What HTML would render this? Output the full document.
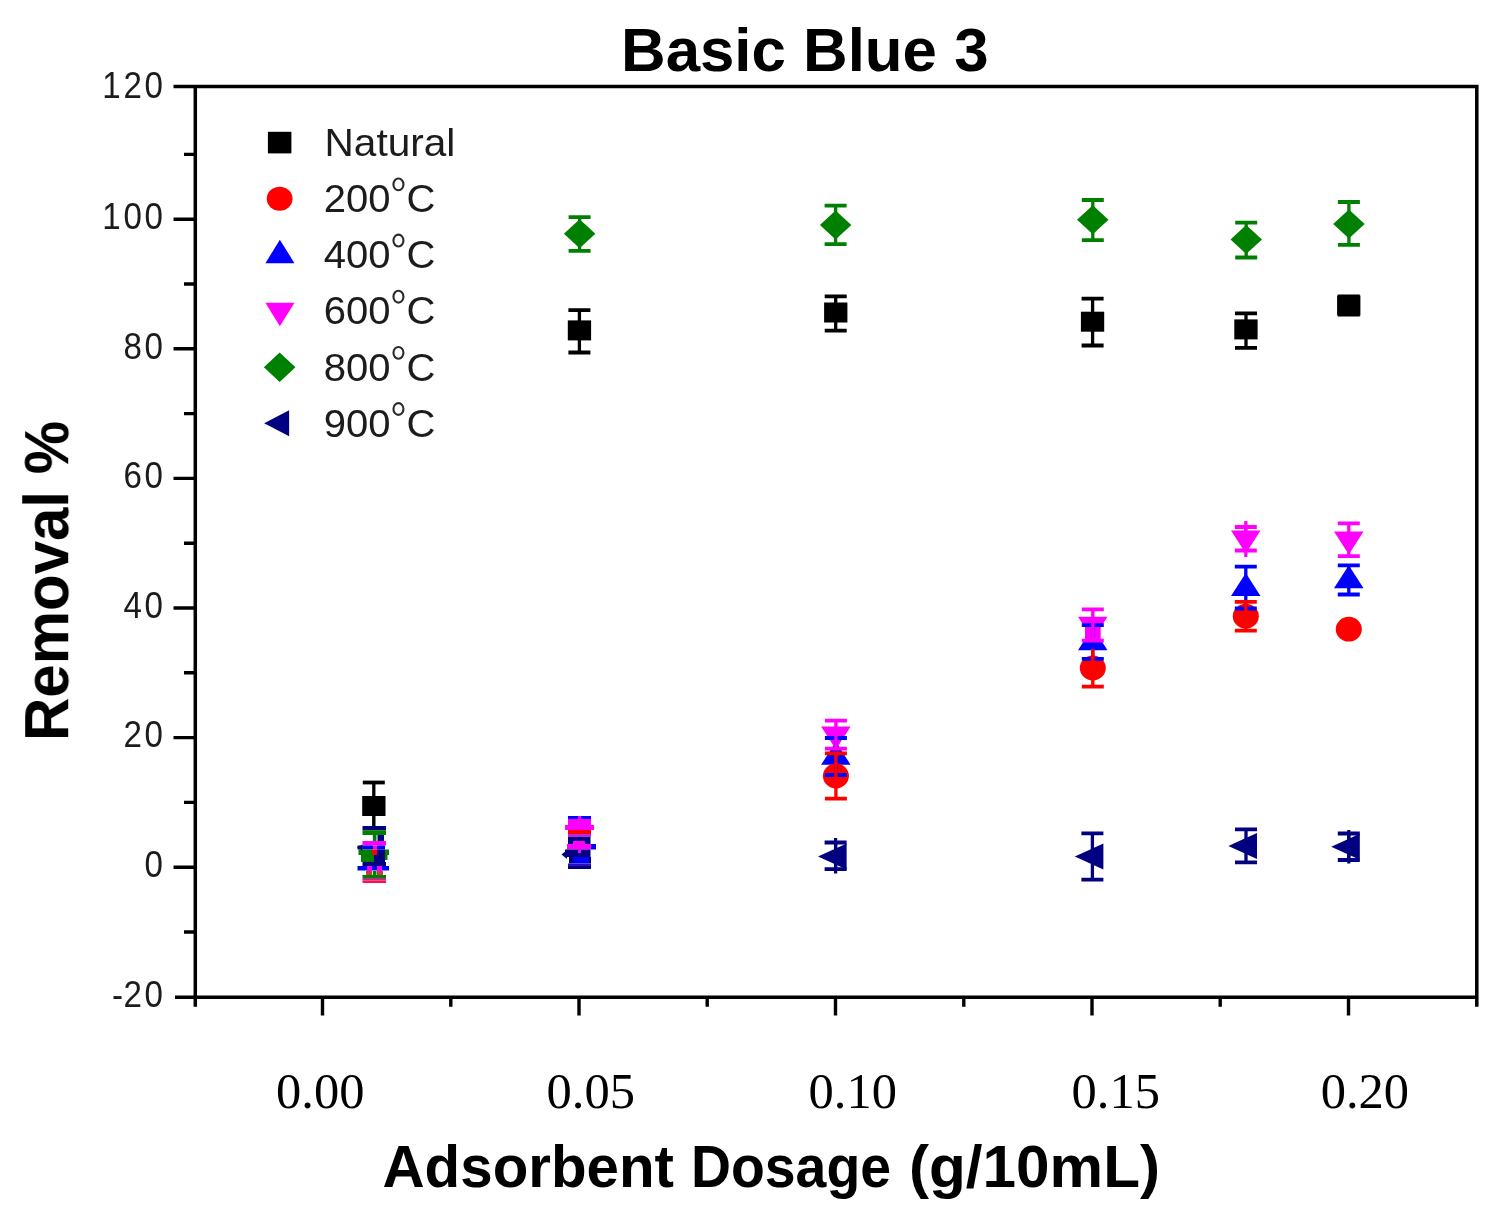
<!DOCTYPE html>
<html><head><meta charset="utf-8"><style>
html,body{margin:0;padding:0;background:#fff;}
body{width:1495px;height:1213px;overflow:hidden;position:relative;}
svg{position:absolute;left:0;top:0;}
text{font-family:"Liberation Sans",sans-serif;}
.yt{font-size:36.8px;fill:#1a1a1a;}
.lg{font-size:38.3px;fill:#1a1a1a;}
.xt{font-family:"Liberation Serif",serif;font-size:50.5px;fill:#000;}
.ttl{font-weight:bold;font-size:60.5px;fill:#000;}
</style></head><body>
<svg width="1495" height="1213" viewBox="0 0 1495 1213">
<defs><filter id="bl" x="0" y="0" width="1495" height="1213" filterUnits="userSpaceOnUse"><feGaussianBlur stdDeviation="0.7"/></filter></defs>
<g filter="url(#bl)">
<text x="621" y="71" class="ttl" style="font-size:61.8px">Basic Blue 3</text>
<text transform="translate(68,741) scale(1.05,1) rotate(-90)" class="ttl" style="font-size:60px" x="0" y="0">Removal %</text>
<path d="M173.5 86.6H1478.3999999999999M195.3 85.0V1006.7M1476.8 85.0V1006.7M175 997.2H1478.3999999999999" stroke="#000" stroke-width="3.5" fill="none"/><path d="M173.5 219.2H195.3M173.5 348.8H195.3M173.5 478.4H195.3M173.5 608.0H195.3M173.5 737.6H195.3M173.5 867.2H195.3M184 154.4H195.3M184 284.0H195.3M184 413.6H195.3M184 543.2H195.3M184 672.8H195.3M184 802.4H195.3M184 932.0H195.3M322.5 997.2V1015.5M579.0 997.2V1015.5M835.5 997.2V1015.5M1092.0 997.2V1015.5M1348.5 997.2V1015.5M450.8 997.2V1006.7M707.2 997.2V1006.7M963.8 997.2V1006.7M1220.2 997.2V1006.7" stroke="#000" stroke-width="3.4" fill="none"/>
<g class="yt"><text transform="translate(165.8,98.4) scale(0.9,1)" text-anchor="end" letter-spacing="3.1">120</text><text transform="translate(165.8,228.9) scale(0.9,1)" text-anchor="end" letter-spacing="3.1">100</text><text transform="translate(165.8,358.5) scale(0.9,1)" text-anchor="end" letter-spacing="3.1">80</text><text transform="translate(165.8,488.1) scale(0.9,1)" text-anchor="end" letter-spacing="3.1">60</text><text transform="translate(165.8,617.7) scale(0.9,1)" text-anchor="end" letter-spacing="3.1">40</text><text transform="translate(165.8,747.3) scale(0.9,1)" text-anchor="end" letter-spacing="3.1">20</text><text transform="translate(165.8,876.9) scale(0.9,1)" text-anchor="end" letter-spacing="3.1">0</text><text transform="translate(165.8,1006.5) scale(0.9,1)" text-anchor="end" letter-spacing="3.1"><tspan letter-spacing="0.3">-</tspan>20</text></g>
<rect x="267.90" y="131.8" width="23.5" height="21.6" fill="#000"/><text transform="translate(324.5,155.9) scale(1.06,1)" class="lg">Natural</text><ellipse cx="279.65" cy="198.8" rx="12.95" ry="12.05" fill="#f00"/><text transform="translate(323.8,212.1) scale(1.045,1)" class="lg">200</text><ellipse cx="398.45" cy="184.40" rx="5.0" ry="5.9" fill="none" stroke="#2a2a2a" stroke-width="2.1"/><text transform="translate(406.5,212.1) scale(1.045,1)" class="lg">C</text><polygon points="279.84999999999997,239.7 294.50,263.2 265.40,263.2" fill="#00f"/><text transform="translate(323.8,268.2) scale(1.045,1)" class="lg">400</text><ellipse cx="398.45" cy="240.55" rx="5.0" ry="5.9" fill="none" stroke="#2a2a2a" stroke-width="2.1"/><text transform="translate(406.5,268.2) scale(1.045,1)" class="lg">C</text><polygon points="265.40,302.8 294.50,302.8 279.84999999999997,326.2" fill="#f0f"/><text transform="translate(323.8,324.4) scale(1.045,1)" class="lg">600</text><ellipse cx="398.45" cy="296.70" rx="5.0" ry="5.9" fill="none" stroke="#2a2a2a" stroke-width="2.1"/><text transform="translate(406.5,324.4) scale(1.045,1)" class="lg">C</text><polygon points="279.65,352.4 295.45,367.2 279.65,382.0 263.85,367.2" fill="#008000"/><text transform="translate(323.8,380.5) scale(1.045,1)" class="lg">800</text><ellipse cx="398.45" cy="352.85" rx="5.0" ry="5.9" fill="none" stroke="#2a2a2a" stroke-width="2.1"/><text transform="translate(406.5,380.5) scale(1.045,1)" class="lg">C</text><polygon points="264.15,423.3 289.15,410.3 289.15,436.3" fill="#000080"/><text transform="translate(323.8,436.6) scale(1.045,1)" class="lg">900</text><ellipse cx="398.45" cy="409.00" rx="5.0" ry="5.9" fill="none" stroke="#2a2a2a" stroke-width="2.1"/><text transform="translate(406.5,436.6) scale(1.045,1)" class="lg">C</text>
<rect x="362.2" y="796.0" width="23.3" height="20" fill="#000000"/><rect x="567.8" y="320.4" width="23.3" height="20" fill="#000000"/><rect x="824.1" y="302.5" width="23.3" height="20" fill="#000000"/><rect x="1080.9" y="311.7" width="23.3" height="20" fill="#000000"/><rect x="1234.3" y="319.4" width="23.3" height="20" fill="#000000"/><rect x="1337.1" y="295.5" width="23.3" height="20" fill="#000000"/><polygon points="835.9,741.8 850.6,764.8 821.1,764.8" fill="#0000ff"/><polygon points="1092.8,627.3 1107.5,650.3 1078.0,650.3" fill="#0000ff"/><polygon points="1245.8,573.0 1260.5,596.0 1231.0,596.0" fill="#0000ff"/><polygon points="1348.8,565.2 1363.5,588.2 1334.0,588.2" fill="#0000ff"/><ellipse cx="835.9" cy="776.0" rx="13" ry="12.4" fill="#ff0000"/><ellipse cx="1092.8" cy="668.0" rx="13" ry="12.4" fill="#ff0000"/><ellipse cx="1245.8" cy="616.2" rx="13" ry="12.4" fill="#ff0000"/><ellipse cx="1348.8" cy="629.2" rx="13" ry="12.4" fill="#ff0000"/><polygon points="821.1,726.4 850.6,726.4 835.9,749.4" fill="#ff00ff"/><polygon points="1078.0,616.7 1107.5,616.7 1092.8,639.7" fill="#ff00ff"/><polygon points="1231.0,530.5 1260.5,530.5 1245.8,553.5" fill="#ff00ff"/><polygon points="1334.0,531.5 1363.5,531.5 1348.8,554.5" fill="#ff00ff"/><polygon points="579.6,219.2 595.4,233.7 579.6,248.2 563.9,233.7" fill="#008000"/><polygon points="835.6,210.5 851.4,225.0 835.6,239.5 819.9,225.0" fill="#008000"/><polygon points="1092.8,205.3 1108.5,219.8 1092.8,234.3 1077.0,219.8" fill="#008000"/><polygon points="1246.2,225.0 1262.0,239.5 1246.2,254.0 1230.5,239.5" fill="#008000"/><polygon points="1348.9,209.6 1364.7,224.1 1348.9,238.6 1333.2,224.1" fill="#008000"/><polygon points="818.0,856.5 846.6,843.5 846.6,869.5" fill="#000080"/><polygon points="1074.8,856.5 1103.4,843.5 1103.4,869.5" fill="#000080"/><polygon points="1228.4,845.9 1257.0,832.9 1257.0,858.9" fill="#000080"/><polygon points="1331.2,846.8 1359.8,833.8 1359.8,859.8" fill="#000080"/><rect x="362.5" y="826" width="23.5" height="4.2" fill="#000080"/><rect x="362.5" y="830.2" width="23.5" height="4.8" fill="#008000"/><rect x="372.8" y="835" width="3.7" height="6.0" fill="#008000"/><rect x="377.5" y="835" width="6.5" height="6.0" fill="#000080"/><rect x="362.5" y="841" width="23.5" height="4.5" fill="#f0f"/><rect x="357.5" y="845.5" width="5.0" height="4.0" fill="#000080"/><rect x="362.5" y="845.5" width="10.5" height="4.0" fill="#00f"/><rect x="373" y="845.5" width="4.0" height="4.0" fill="#f0f"/><rect x="377" y="845.5" width="8.0" height="4.0" fill="#00f"/><rect x="358.5" y="849.5" width="13.5" height="5.5" fill="#008000"/><rect x="372" y="849.5" width="5.0" height="5.5" fill="#f00"/><rect x="377" y="849.5" width="8.0" height="5.5" fill="#000080"/><rect x="385" y="849.5" width="4.0" height="5.5" fill="#008000"/><rect x="361" y="855" width="13.0" height="7.0" fill="#008000"/><rect x="374" y="855" width="11.0" height="7.0" fill="#000080"/><rect x="385" y="855" width="2.5" height="5.0" fill="#008000"/><rect x="362.5" y="862" width="23.5" height="4.0" fill="#000080"/><rect x="357.5" y="866" width="31.5" height="4.5" fill="#00f"/><rect x="367" y="866" width="5.0" height="5.0" fill="#f0f"/><rect x="377" y="866" width="5.0" height="5.0" fill="#f0f"/><rect x="366" y="871" width="6.0" height="4.0" fill="#c04040"/><rect x="372.8" y="871" width="3.7" height="4.0" fill="#008000"/><rect x="377" y="871" width="6.0" height="4.0" fill="#c04040"/><rect x="362.5" y="875" width="23.5" height="3.0" fill="#008000"/><rect x="362.5" y="878" width="23.5" height="2.5" fill="#b03080"/><rect x="362.5" y="880.5" width="23.5" height="2.5" fill="#ff1050"/><polygon points="357,847.5 362.5,844.5 362.5,850.5" fill="#000080"/><rect x="568" y="816" width="23.0" height="3.0" fill="#00f"/><rect x="578" y="816" width="3.0" height="3.0" fill="#f0f"/><rect x="568" y="819" width="23.0" height="6.0" fill="#f0f"/><rect x="565" y="825" width="29.0" height="5.0" fill="#f0f"/><rect x="568" y="830" width="23.0" height="4.0" fill="#f00"/><rect x="568" y="834" width="23.0" height="3.0" fill="#c020e0"/><rect x="568" y="837" width="22.5" height="4.0" fill="#000080"/><rect x="568" y="841" width="5.0" height="3.0" fill="#000080"/><rect x="573" y="841" width="12.0" height="3.0" fill="#f0f"/><rect x="585" y="841" width="5.5" height="3.0" fill="#000080"/><rect x="567" y="844" width="24.0" height="5.5" fill="#f0f"/><rect x="591" y="844" width="5.0" height="5.5" fill="#00f"/><rect x="565" y="849.5" width="25.5" height="3.5" fill="#000080"/><rect x="578" y="849.5" width="3.0" height="3.5" fill="#f0f"/><rect x="566" y="853" width="24.5" height="4.0" fill="#000080"/><rect x="569" y="857" width="4.0" height="6.5" fill="#000080"/><rect x="573" y="857" width="16.0" height="6.5" fill="#00f"/><rect x="589" y="857" width="2.0" height="6.5" fill="#000080"/><rect x="568" y="863.5" width="23.0" height="2.5" fill="#3010c0"/><rect x="568" y="866" width="23.0" height="3.0" fill="#000080"/><polygon points="561.5,854.5 567,850 567,859" fill="#000080"/><rect x="1085" y="627" width="15.7" height="14.0" fill="#f0f"/>
<path d="M373.8 806.0V782.5" stroke="#000000" stroke-width="3.3" fill="none"/><path d="M362.8 782.5H384.8" stroke="#000000" stroke-width="3.8" fill="none"/><path d="M579.4 330.4V310.2M579.4 330.4V352.5" stroke="#000000" stroke-width="3.3" fill="none"/><path d="M568.4 310.2H590.4M568.4 352.5H590.4" stroke="#000000" stroke-width="3.8" fill="none"/><path d="M835.7 312.5V296.3M835.7 312.5V330.6" stroke="#000000" stroke-width="3.3" fill="none"/><path d="M824.7 296.3H846.7M824.7 330.6H846.7" stroke="#000000" stroke-width="3.8" fill="none"/><path d="M1092.6 321.7V298.7M1092.6 321.7V345.5" stroke="#000000" stroke-width="3.3" fill="none"/><path d="M1081.6 298.7H1103.6M1081.6 345.5H1103.6" stroke="#000000" stroke-width="3.8" fill="none"/><path d="M1246.0 329.4V313.4M1246.0 329.4V347.8" stroke="#000000" stroke-width="3.3" fill="none"/><path d="M1235.0 313.4H1257.0M1235.0 347.8H1257.0" stroke="#000000" stroke-width="3.8" fill="none"/><path d="M1348.8 305.5V296.3M1348.8 305.5V314.7" stroke="#000000" stroke-width="3.3" fill="none"/><path d="M1337.8 296.3H1359.8M1337.8 314.7H1359.8" stroke="#000000" stroke-width="3.8" fill="none"/><path d="M835.9 756.5V738.0M835.9 756.5V775.0" stroke="#0000ff" stroke-width="3.3" fill="none"/><path d="M824.9 738.0H846.9M824.9 775.0H846.9" stroke="#0000ff" stroke-width="3.8" fill="none"/><path d="M1092.8 642.0V625.2M1092.8 642.0V658.8" stroke="#0000ff" stroke-width="3.3" fill="none"/><path d="M1081.8 625.2H1103.8M1081.8 658.8H1103.8" stroke="#0000ff" stroke-width="3.8" fill="none"/><path d="M1245.8 587.7V566.6M1245.8 587.7V608.5" stroke="#0000ff" stroke-width="3.3" fill="none"/><path d="M1234.8 566.6H1256.8M1234.8 608.5H1256.8" stroke="#0000ff" stroke-width="3.8" fill="none"/><path d="M1348.8 580.0V565.4M1348.8 580.0V594.5" stroke="#0000ff" stroke-width="3.3" fill="none"/><path d="M1337.8 565.4H1359.8M1337.8 594.5H1359.8" stroke="#0000ff" stroke-width="3.8" fill="none"/><path d="M835.9 776.0V753.3M835.9 776.0V798.6" stroke="#ff0000" stroke-width="3.3" fill="none"/><path d="M824.9 753.3H846.9M824.9 798.6H846.9" stroke="#ff0000" stroke-width="3.8" fill="none"/><path d="M1092.8 668.0V686.6" stroke="#ff0000" stroke-width="3.3" fill="none"/><path d="M1081.8 686.6H1103.8" stroke="#ff0000" stroke-width="3.8" fill="none"/><path d="M1245.8 616.2V601.8M1245.8 616.2V630.6" stroke="#ff0000" stroke-width="3.3" fill="none"/><path d="M1234.8 601.8H1256.8M1234.8 630.6H1256.8" stroke="#ff0000" stroke-width="3.8" fill="none"/><path d="M835.9 734.7V720.7M835.9 734.7V748.7" stroke="#ff00ff" stroke-width="3.3" fill="none"/><path d="M824.9 720.7H846.9M824.9 748.7H846.9" stroke="#ff00ff" stroke-width="3.8" fill="none"/><path d="M1092.8 625.0V609.4M1092.8 625.0V640.6" stroke="#ff00ff" stroke-width="3.3" fill="none"/><path d="M1081.8 609.4H1103.8M1081.8 640.6H1103.8" stroke="#ff00ff" stroke-width="3.8" fill="none"/><path d="M1245.8 538.8V527.0M1245.8 538.8V550.5" stroke="#ff00ff" stroke-width="3.3" fill="none"/><path d="M1234.8 527.0H1256.8M1234.8 550.5H1256.8" stroke="#ff00ff" stroke-width="3.8" fill="none"/><path d="M1348.8 539.8V523.3M1348.8 539.8V556.2" stroke="#ff00ff" stroke-width="3.3" fill="none"/><path d="M1337.8 523.3H1359.8M1337.8 556.2H1359.8" stroke="#ff00ff" stroke-width="3.8" fill="none"/><path d="M579.6 233.7V217.2M579.6 233.7V250.8" stroke="#008000" stroke-width="3.3" fill="none"/><path d="M568.6 217.2H590.6M568.6 250.8H590.6" stroke="#008000" stroke-width="3.8" fill="none"/><path d="M835.6 225.0V205.6M835.6 225.0V244.1" stroke="#008000" stroke-width="3.3" fill="none"/><path d="M824.6 205.6H846.6M824.6 244.1H846.6" stroke="#008000" stroke-width="3.8" fill="none"/><path d="M1092.8 219.8V200.0M1092.8 219.8V240.1" stroke="#008000" stroke-width="3.3" fill="none"/><path d="M1081.8 200.0H1103.8M1081.8 240.1H1103.8" stroke="#008000" stroke-width="3.8" fill="none"/><path d="M1246.2 239.5V222.7M1246.2 239.5V257.5" stroke="#008000" stroke-width="3.3" fill="none"/><path d="M1235.2 222.7H1257.2M1235.2 257.5H1257.2" stroke="#008000" stroke-width="3.8" fill="none"/><path d="M1348.9 224.1V202.0M1348.9 224.1V244.8" stroke="#008000" stroke-width="3.3" fill="none"/><path d="M1337.9 202.0H1359.9M1337.9 244.8H1359.9" stroke="#008000" stroke-width="3.8" fill="none"/><path d="M835.6 856.5V842.5M835.6 856.5V869.2" stroke="#000080" stroke-width="3.3" fill="none"/><path d="M824.6 842.5H846.6M824.6 869.2H846.6" stroke="#000080" stroke-width="3.8" fill="none"/><path d="M1092.4 856.5V833.4M1092.4 856.5V879.7" stroke="#000080" stroke-width="3.3" fill="none"/><path d="M1081.4 833.4H1103.4M1081.4 879.7H1103.4" stroke="#000080" stroke-width="3.8" fill="none"/><path d="M1246.0 845.9V829.3M1246.0 845.9V862.4" stroke="#000080" stroke-width="3.3" fill="none"/><path d="M1235.0 829.3H1257.0M1235.0 862.4H1257.0" stroke="#000080" stroke-width="3.8" fill="none"/><path d="M1348.8 846.8V833.5M1348.8 846.8V860.0" stroke="#000080" stroke-width="3.3" fill="none"/><path d="M1337.8 833.5H1359.8M1337.8 860.0H1359.8" stroke="#000080" stroke-width="3.8" fill="none"/><path d="M1245.8 521V557" stroke="#ff00ff" stroke-width="3.2"/><path d="M373.8 806V826" stroke="#000" stroke-width="3.4"/><path d="M1092.8 668V649" stroke="#f00" stroke-width="3.4"/><path d="M835.6 838V873.6M1348.8 830V863.6" stroke="#000080" stroke-width="3.2"/>
</g>
<text x="320.3" y="1108.3" text-anchor="middle" class="xt">0.00</text><text x="590.7" y="1108.3" text-anchor="middle" class="xt">0.05</text><text x="852.8" y="1108.3" text-anchor="middle" class="xt">0.10</text><text x="1115.7" y="1108.3" text-anchor="middle" class="xt">0.15</text><text x="1364.9" y="1108.3" text-anchor="middle" class="xt">0.20</text>
<text x="382.5" y="1187" class="ttl" style="font-size:60px" textLength="291.5" lengthAdjust="spacingAndGlyphs">Adsorbent</text>
<text x="691" y="1187" class="ttl" style="font-size:60px" textLength="200" lengthAdjust="spacingAndGlyphs">Dosage</text>
<text x="909" y="1187" class="ttl" style="font-size:60px" textLength="251" lengthAdjust="spacingAndGlyphs">(g/10mL)</text>
</svg>
</body></html>
